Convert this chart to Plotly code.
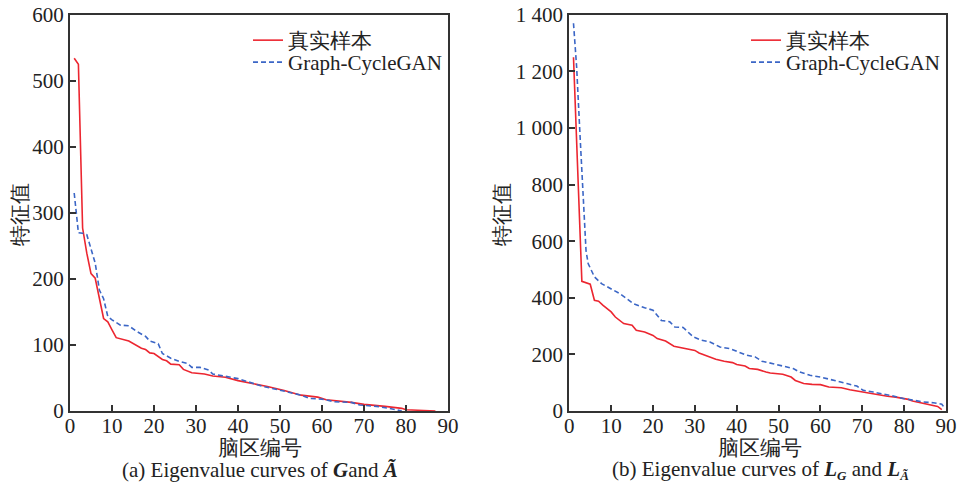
import plotly.graph_objects as go
from plotly.subplots import make_subplots

# ---- data: panel (a) ----
a_real_x = [1, 2, 3, 4, 5, 6, 8, 9, 10, 11, 14, 17, 18, 19, 20, 21, 22, 23, 24, 26, 27, 29, 32, 34, 37, 40, 44, 47, 51, 55, 59, 61, 67, 70, 75, 79, 80, 87]
a_real_y = [534, 525, 277, 239, 208, 201, 140, 135, 123, 111, 106, 95, 93, 88, 87, 83, 78, 76, 71, 70, 63, 58, 56, 53, 51, 46, 41, 37, 31, 24, 21, 17, 13, 10, 7, 4, 2, 0]
a_gen_x = [1, 2, 3, 4, 6, 7, 8, 9, 10, 12, 14, 16, 18, 19, 21, 22, 24, 26, 28, 29, 31, 33, 34, 37, 40, 43, 46, 49, 52, 55, 57, 60, 63, 67, 69, 73, 76, 79]
a_gen_y = [330, 270, 269, 267, 224, 183, 170, 143, 138, 130, 129, 120, 113, 106, 102, 87, 80, 75, 72, 66, 66, 62, 56, 53, 49, 43, 37, 33, 29, 24, 19, 18, 14, 13, 9, 7, 4, 0]

# ---- data: panel (b) ----
b_real_x = [1, 2, 3, 5, 6, 7, 8, 10, 11, 13, 15, 16, 18, 19, 20, 21, 23, 25, 28, 30, 31, 33, 35, 37, 39, 40, 42, 43, 45, 47, 48, 51, 53, 54, 56, 58, 60, 62, 65, 67, 70, 73, 76, 78, 81, 82, 85, 88, 89]
b_real_y = [1250, 860, 458, 448, 391, 388, 374, 350, 332, 309, 303, 285, 279, 273, 267, 256, 247, 229, 220, 214, 205, 194, 183, 176, 171, 164, 159, 150, 147, 138, 134, 130, 120, 108, 97, 94, 93, 85, 82, 75, 67, 61, 52, 49, 41, 35, 26, 16, 5]
b_gen_x = [1, 1.75, 2.55, 3.35, 4, 4.5, 6, 7.7, 10, 12, 13.7, 15.3, 18, 20, 22, 24, 25.2, 27.2, 29.6, 31.6, 33.6, 36, 38.4, 40.4, 42.4, 44.4, 46, 48.7, 51, 53.5, 55, 57.5, 60, 61.5, 64, 66.3, 68.7, 70.2, 72.6, 75, 77.4, 79.8, 82.2, 84.6, 87, 89, 89.8]
b_gen_y = [1370, 1216, 978, 742, 566, 521, 474, 450, 432, 415, 397, 379, 365, 356, 320, 315, 297, 295, 262, 250, 244, 226, 220, 209, 197, 191, 176, 167, 159, 150, 138, 126, 120, 114, 106, 97, 88, 73, 67, 61, 53, 44, 38, 32, 29, 24, 8]

x_ticks = [0, 10, 20, 30, 40, 50, 60, 70, 80, 90]
a_y_ticks = [0, 100, 200, 300, 400, 500, 600]
b_y_ticks = [0, 200, 400, 600, 800, 1000, 1200, 1400]
b_y_ticktext = ["0", "200", "400", "600", "800", "1 000", "1 200", "1 400"]

legend_names = ["真实样本", "Graph-CycleGAN"]
x_title = "脑区编号"
y_title = "特征值"
cap_a = "(a) Eigenvalue curves of <b><i>G</i></b>and <b><i>Ã</i></b>"
cap_b = ("(b) Eigenvalue curves of <b><i>L</i></b><sub><span style='font-size:13px'><b><i>G</i></b></span></sub>"
         " and <b><i>L</i></b><sub><span style='font-size:13px'><b><i>Ã</i></b></span></sub>")

RED = "#ec2630"
BLUE = "#3b66c6"
FONT = "Liberation Serif"
AX = "#333333"
DASH = "5px,3px"

fig = make_subplots(rows=1, cols=2)

fig.add_trace(go.Scatter(x=a_real_x, y=a_real_y, mode="lines", name=legend_names[0],
                         line=dict(color=RED, width=1.6), legend="legend", showlegend=True), row=1, col=1)
fig.add_trace(go.Scatter(x=a_gen_x, y=a_gen_y, mode="lines", name=legend_names[1],
                         line=dict(color=BLUE, width=1.6, dash=DASH), legend="legend3", showlegend=True), row=1, col=1)
fig.add_trace(go.Scatter(x=b_real_x, y=b_real_y, mode="lines", name=legend_names[0],
                         line=dict(color=RED, width=1.6), legend="legend2", showlegend=True), row=1, col=2)
fig.add_trace(go.Scatter(x=b_gen_x, y=b_gen_y, mode="lines", name=legend_names[1],
                         line=dict(color=BLUE, width=1.6, dash=DASH), legend="legend4", showlegend=True), row=1, col=2)

ydom = [(484 - 411) / 484, (484 - 14.7) / 484]
axcommon = dict(showline=True, linecolor=AX, linewidth=2, mirror=True, ticks="inside",
                ticklen=6, tickwidth=1.5, tickcolor=AX, showgrid=False, zeroline=False,
                automargin=False,
                tickfont=dict(family=FONT, size=21, color="#222"))

fig.update_xaxes(range=[0, 90], tickvals=x_ticks, domain=[70 / 960, 448 / 960], ticklabelstandoff=-5,
                 **axcommon, row=1, col=1)
fig.update_xaxes(range=[0, 90], tickvals=x_ticks, domain=[569.3 / 960, 946 / 960], ticklabelstandoff=-5,
                 **axcommon, row=1, col=2)
fig.update_yaxes(range=[0, 600], tickvals=a_y_ticks, domain=ydom, **axcommon, row=1, col=1)
fig.update_yaxes(range=[0, 1400], tickvals=b_y_ticks, ticktext=b_y_ticktext, domain=ydom, **axcommon, row=1, col=2)

legfont = dict(family=FONT, size=21, color="#222")


def leg(xpx, ytop):
    return dict(x=xpx / 960, y=1 - ytop / 484, xanchor="left", yanchor="top", font=legfont,
                bgcolor="rgba(0,0,0,0)", tracegroupgap=0, itemwidth=30, visible=True)


fig.update_layout(
    width=960, height=484, margin=dict(l=0, r=0, t=0, b=0, autoexpand=False),
    paper_bgcolor="white", plot_bgcolor="white",
    showlegend=True,
    font=dict(family=FONT),
    legend=leg(248, 20),
    legend3=leg(248, 42),
    legend2=leg(746, 20),
    legend4=leg(746, 42),
)

annfont = dict(family=FONT, size=21, color="#222")
capfont = dict(family=FONT, size=21, color="#222")
anns = [
    dict(x=260 / 960, y=1 - 448 / 484, text=x_title, font=annfont),
    dict(x=760 / 960, y=1 - 448 / 484, text=x_title, font=annfont),
    dict(x=20 / 960, y=1 - 215 / 484, text=y_title, font=annfont, textangle=-90),
    dict(x=(480 + 22) / 960, y=1 - 215 / 484, text=y_title, font=annfont, textangle=-90),
    dict(x=260 / 960, y=1 - 470 / 484, text=cap_a, font=capfont),
    dict(x=760 / 960, y=1 - 470 / 484, text=cap_b, font=capfont),
]
for a in anns:
    fig.add_annotation(xref="paper", yref="paper", showarrow=False, xanchor="center", yanchor="middle", **a)

fig.write_html("out.html")
